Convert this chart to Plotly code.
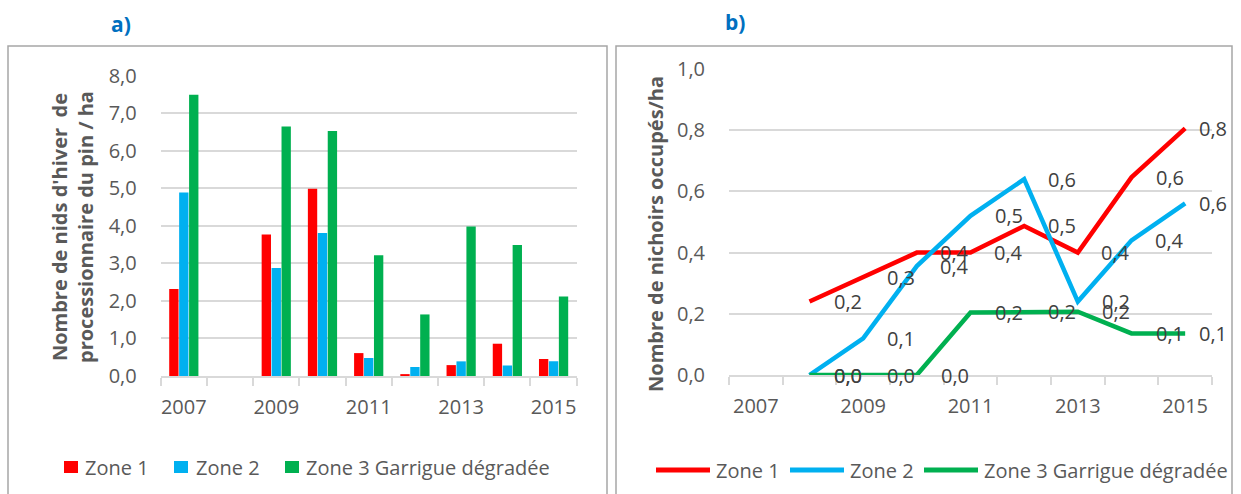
import plotly.graph_objects as go

# ---------------- data ----------------
years = [2007, 2008, 2009, 2010, 2011, 2012, 2013, 2014, 2015]
tick_years = [2007, 2009, 2011, 2013, 2015]
series_names = ["Zone 1", "Zone 2", "Zone 3 Garrigue dégradée"]

# a) Nombre de nids d'hiver de processionnaire du pin / ha
nids_zone1 = [2.32, None, 3.77, 4.99, 0.61, 0.05, 0.29, 0.86, 0.45]
nids_zone2 = [4.89, None, 2.88, 3.81, 0.48, 0.24, 0.39, 0.28, 0.39]
nids_zone3 = [7.49, None, 6.65, 6.53, 3.22, 1.64, 3.98, 3.49, 2.12]

# b) Nombre de nichoirs occupés / ha
nichoirs_zone1 = [None, 0.24, 0.32, 0.40, 0.40, 0.487, 0.40, 0.646, 0.806]
nichoirs_zone2 = [None, 0.0, 0.12, 0.356, 0.52, 0.64, 0.24, 0.44, 0.561]
nichoirs_zone3 = [None, 0.0, 0.0, 0.0, 0.204, 0.207, 0.207, 0.136, 0.136]

colors = ["#FF0000", "#00B0F0", "#00B050"]

# ---------------- layout helpers ----------------
W, H = 1241, 494
def px(x):
    return x / W
def py(y):
    return 1 - y / H

FONT = "Open Sans"
GRAY = "#595959"
DARK = "#404040"
GRID = "#D9D9D9"

idx = list(range(len(years)))
tickvals = [years.index(y) for y in tick_years]
ticktext = [str(y) for y in tick_years]
boundaries = [i - 0.5 for i in range(len(years) + 1)]
xrange_ = [-0.5, len(years) - 0.5]

fig = go.Figure()
annotations = []

# ---- a) bars ----
for name, vals, col in zip(series_names, [nids_zone1, nids_zone2, nids_zone3], colors):
    fig.add_trace(go.Bar(x=idx, y=vals, name=name, marker=dict(color=col, line=dict(width=0)),
                         xaxis="x", yaxis="y", showlegend=False))

# ---- b) lines + data labels (placed to the right of each point) ----
def fmt(v):
    return f"{v:.1f}".replace(".", ",")

for name, vals, col in zip(series_names, [nichoirs_zone1, nichoirs_zone2, nichoirs_zone3], colors):
    fig.add_trace(go.Scatter(x=idx, y=vals, name=name, mode="lines",
                             line=dict(color=col, width=4.5), xaxis="x2", yaxis="y2",
                             showlegend=False))
    for i, v in zip(idx, vals):
        if v is None:
            continue
        annotations.append(dict(
            x=i, y=v, xref="x2", yref="y2", text=fmt(v), showarrow=False,
            xanchor="center", yanchor="middle", xshift=28 if i == idx[-1] else 38,
            font=dict(family=FONT, size=20, color=DARK)))

xaxis_common = dict(
    range=xrange_, tickmode="array", tickvals=tickvals, ticktext=ticktext,
    ticks="", showgrid=False, zeroline=False, showline=True, linecolor=GRID, linewidth=2,
    tickfont=dict(family=FONT, size=20, color=GRAY), ticklabelstandoff=12,
    minor=dict(tickmode="array", tickvals=boundaries, ticks="outside", ticklen=8,
               tickwidth=2, tickcolor=GRID, showgrid=False),
    fixedrange=True, automargin=False,
)
# overlay axes giving the upper half of the crossing category ticks
xaxis_inner = dict(
    range=xrange_, tickmode="array", tickvals=boundaries, ticks="inside", ticklen=7,
    tickwidth=2, tickcolor=GRID, showticklabels=False, showgrid=False, zeroline=False,
    showline=False, fixedrange=True, automargin=False,
)
yaxis_common = dict(
    showgrid=True, gridcolor=GRID, gridwidth=2, zeroline=False, showline=False, ticks="",
    tickformat=".1f", tickfont=dict(family=FONT, size=20, color=GRAY), ticklabelstandoff=23,
    fixedrange=True, automargin=False,
)

left_x = [px(160.7), px(576.7)]
right_x = [px(729), px(1212)]

fig.update_layout(
    template="none",
    width=W, height=H, autosize=False,
    margin=dict(l=0, r=0, t=0, b=0, pad=0),
    paper_bgcolor="white", plot_bgcolor="white",
    separators=", ",
    barmode="group", bargap=0.355, bargroupgap=0.06,
    xaxis=dict(domain=left_x, anchor="y", **xaxis_common),
    yaxis=dict(domain=[py(376), py(75.7)], anchor="x", range=[0, 8], dtick=1, **yaxis_common),
    xaxis2=dict(domain=right_x, anchor="y2", **xaxis_common),
    yaxis2=dict(domain=[py(375), py(69)], anchor="x2", range=[0, 1], dtick=0.2, **yaxis_common),
    xaxis3=dict(overlaying="x", anchor="y", side="bottom", **xaxis_inner),
    xaxis4=dict(overlaying="x2", anchor="y2", side="bottom", **xaxis_inner),
    showlegend=False,
)

# panel frames
shapes = [
    dict(type="rect", xref="paper", yref="paper", x0=px(8), x1=px(607), y0=-0.2, y1=py(46),
         line=dict(color="#A6A6A6", width=1.5), fillcolor="rgba(0,0,0,0)", layer="below"),
    dict(type="rect", xref="paper", yref="paper", x0=px(616), x1=px(1232), y0=-0.2, y1=py(46),
         line=dict(color="#A6A6A6", width=1.5), fillcolor="rgba(0,0,0,0)", layer="below"),
]

annotations += [
    dict(text="<b>a)</b>", x=px(121), y=py(24), xref="paper", yref="paper", showarrow=False,
         xanchor="center", yanchor="middle", font=dict(family=FONT, size=21, color="#0070C0")),
    dict(text="<b>b)</b>", x=px(735), y=py(22), xref="paper", yref="paper", showarrow=False,
         xanchor="center", yanchor="middle", font=dict(family=FONT, size=21, color="#0070C0")),
    dict(text="<b>Nombre de nids d'hiver\u00a0 de<br>processionnaire du pin / ha</b>",
         x=px(72), y=py(227), xref="paper", yref="paper", showarrow=False, textangle=-90,
         xanchor="center", yanchor="middle", font=dict(family=FONT, size=20, color=GRAY)),
    dict(text="<b>Nombre de nichoirs occupés/ha</b>",
         x=px(656), y=py(234), xref="paper", yref="paper", showarrow=False, textangle=-90,
         xanchor="center", yanchor="middle", font=dict(family=FONT, size=20, color=GRAY)),
]

# custom legends
sq_left = [64, 174, 285]
txt_left = [83, 194, 304]
for name, col, sx, tx in zip(series_names, colors, sq_left, txt_left):
    shapes.append(dict(type="rect", xref="paper", yref="paper", x0=px(sx), x1=px(sx + 14),
                       y0=py(473), y1=py(461), fillcolor=col, line=dict(width=0)))
    annotations.append(dict(text=name, x=px(tx), y=py(467), xref="paper", yref="paper",
                            showarrow=False, xanchor="left", yanchor="middle",
                            font=dict(family=FONT, size=20, color=GRAY)))

ln_right = [656, 790, 924]
txt_right = [714, 848, 982]
for name, col, lx0, tx in zip(series_names, colors, ln_right, txt_right):
    shapes.append(dict(type="line", xref="paper", yref="paper", x0=px(lx0), x1=px(lx0 + 54),
                       y0=py(470), y1=py(470), line=dict(color=col, width=5)))
    annotations.append(dict(text=name, x=px(tx), y=py(470), xref="paper", yref="paper",
                            showarrow=False, xanchor="left", yanchor="middle",
                            font=dict(family=FONT, size=20, color=GRAY)))

fig.update_layout(shapes=shapes, annotations=annotations)

fig.write_html(
    "out.html",
    config={"displayModeBar": False, "staticPlot": True},
    post_script="document.body.style.margin='0';document.body.style.overflow='hidden';",
)
